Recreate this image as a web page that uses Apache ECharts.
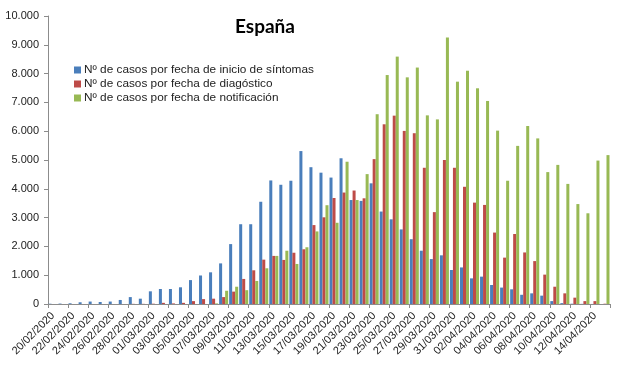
<!DOCTYPE html>
<html>
<head>
<meta charset="utf-8">
<script src="https://cdn.jsdelivr.net/npm/echarts@6/dist/echarts.min.js"></script>
<style>html,body{margin:0;padding:0;background:#fff}#c{width:620px;height:368px}</style>
</head>
<body>
<div id="c"></div>
<script>
const startDate = [2020, 1, 20]; // 20/02/2020
const dayCount = 56;
function buildDates() {
  const out = [];
  for (let i = 0; i < dayCount; i++) {
    const d = new Date(Date.UTC(startDate[0], startDate[1], startDate[2] + i));
    const dd = String(d.getUTCDate()).padStart(2, '0');
    const mm = String(d.getUTCMonth() + 1).padStart(2, '0');
    out.push(dd + '/' + mm + '/' + d.getUTCFullYear());
  }
  return out;
}
const categories = buildDates();

const seriesNames = [
  'Nº de casos por fecha de inicio de síntomas',
  'Nº de casos por fecha de diagóstico',
  'Nº de casos por fecha de notificación'
];

const sintomas = [10, 15, 25, 60, 85, 70, 85, 140, 240, 185,
  440, 520, 520, 580, 830, 990, 1100, 1410, 2080, 2770,
  2770, 3550, 4290, 4140, 4280, 5310, 4750, 4560, 4390, 5060,
  3610, 3580, 4190, 3210, 2940, 2590, 2250, 1850, 1560, 1690,
  1180, 1270, 890, 950, 660, 570, 510, 320, 370, 290,
  100, 30, 10, 5, 2, 0];

const diagnostico = [0, 0, 0, 0, 0, 0, 0, 0, 5, 5,
  10, 40, 20, 40, 100, 170, 185, 240, 430, 870,
  1170, 1540, 1670, 1530, 1780, 1900, 2740, 3010, 3680, 3870,
  3940, 3670, 5030, 6240, 6540, 6010, 5930, 4730, 3190, 5000,
  4730, 4070, 3520, 3440, 2480, 1610, 2430, 1790, 1490, 1020,
  600, 370, 220, 100, 100, 10];

const notificacion = [0, 0, 0, 0, 0, 0, 0, 0, 0, 0,
  0, 0, 0, 0, 0, 0, 20, 460, 600, 480,
  800, 1240, 1670, 1850, 1390, 1970, 2520, 3430, 2820, 4940,
  3610, 4510, 6590, 7950, 8590, 7870, 8210, 6550, 6410, 9250,
  7720, 8100, 7490, 7050, 6020, 4280, 5490, 6180, 5750, 4580,
  4830, 4170, 3470, 3150, 4980, 5170];

const colors = ['#4A7EBB', '#BE4B48', '#98B954'];

function fmt(v) {
  return String(v).replace(/\B(?=(\d{3})+(?!\d))/g, '.');
}

const chart = echarts.init(document.getElementById('c'), null, {renderer: 'canvas'});
chart.setOption({
  animation: false,
  backgroundColor: '#fff',
  color: colors,
  title: {
    text: 'España',
    left: 230,
    top: 12,
    textStyle: {fontFamily: 'Lato', fontWeight: 'bold', fontSize: 19, color: '#000'}
  },
  legend: {
    orient: 'vertical',
    left: 69,
    top: 59,
    itemWidth: 7,
    itemHeight: 7,
    itemGap: 2,
    icon: 'rect',
    data: seriesNames,
    textStyle: {fontFamily: 'Liberation Sans', fontSize: 11.8, color: '#222', padding: [0, 0, 0, -2]}
  },
  grid: {left: 48, right: 10, top: 16, bottom: 64, containLabel: false},
  xAxis: {
    type: 'category',
    data: categories,
    axisLine: {lineStyle: {color: '#8c8c8c'}},
    axisTick: {show: true, interval: 1, length: 4, lineStyle: {color: '#8c8c8c'}},
    axisLabel: {
      interval: 1,
      rotate: 45,
      fontFamily: 'Liberation Sans',
      fontSize: 11,
      color: '#222',
      margin: 10
    }
  },
  yAxis: {
    type: 'value',
    min: 0,
    max: 10000,
    interval: 1000,
    splitLine: {show: false},
    axisLine: {show: true, lineStyle: {color: '#8c8c8c'}},
    axisTick: {show: true, length: 4, lineStyle: {color: '#8c8c8c'}},
    axisLabel: {
      formatter: fmt,
      fontFamily: 'Liberation Sans',
      fontSize: 11,
      color: '#222',
      margin: 9
    }
  },
  series: [
    {name: seriesNames[0], type: 'bar', data: sintomas, barGap: '0%', barCategoryGap: '10%'},
    {name: seriesNames[1], type: 'bar', data: diagnostico, barGap: '0%', barCategoryGap: '10%'},
    {name: seriesNames[2], type: 'bar', data: notificacion, barGap: '0%', barCategoryGap: '10%'}
  ]
});
</script>
</body>
</html>
